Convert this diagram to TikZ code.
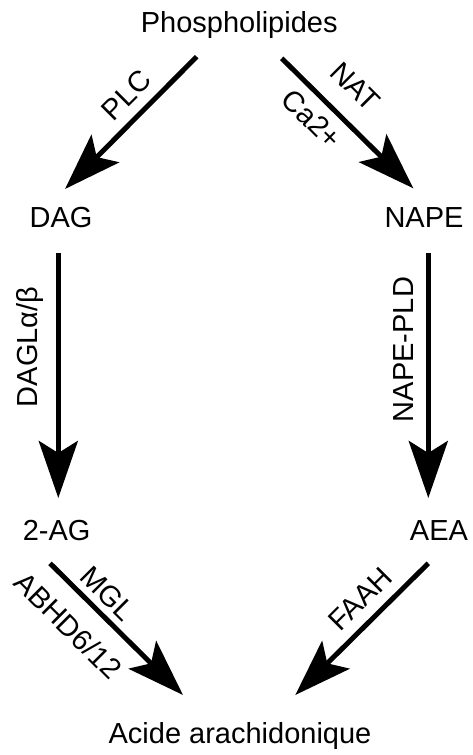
\documentclass[tikz,border=0pt]{standalone}
\usepackage{fontspec}
\setmainfont{Liberation Sans}
\usetikzlibrary{arrows.meta}
\begin{document}
\begin{tikzpicture}[x=1pt,y=-1pt,
  lbl/.style={font=\fontsize{29}{34}\selectfont, inner sep=0pt},
  arr/.style={line width=5pt, -{Stealth[length=57pt,width=39pt,inset=12pt]}}]
\useasboundingbox (0,0) rectangle (472,755);
% metabolites
\node[lbl,anchor=base] (phos) at (239.2,32.7) {Phospholipides};
\node[lbl,anchor=base] (dag)  at (61,227.3) {DAG};
\node[lbl,anchor=base] (nape) at (424,227.3) {NAPE};
\node[lbl,anchor=base] (ag)   at (56.7,540) {2-AG};
\node[lbl,anchor=base] (aea)  at (439,540) {AEA};
\node[lbl,anchor=base] (aa)   at (240,743.3) {Acide arachidonique};
% arrow ends
\coordinate (plcS) at (196.7,56.7);  \coordinate (plcE) at (65,189);
\coordinate (natS) at (281.7,58.3);  \coordinate (natE) at (413.3,188.3);
\coordinate (dglS) at (58.3,253);    \coordinate (dglE) at (58.3,498);
\coordinate (pldS) at (428.3,253);   \coordinate (pldE) at (428.3,498);
\coordinate (mglS) at (50,563.3);    \coordinate (mglE) at (183,695);
\coordinate (faaS) at (428.3,563.3); \coordinate (faaE) at (295.3,695);
\draw[arr] (plcS) -- (plcE);
\draw[arr] (natS) -- (natE);
\draw[arr] (dglS) -- (dglE);
\draw[arr] (pldS) -- (pldE);
\draw[arr] (mglS) -- (mglE);
\draw[arr] (faaS) -- (faaE);
% enzyme labels
\node[lbl,rotate=45]  (plc)  at (126.7,95) {PLC};
\node[lbl,rotate=-45] (nat)  at (355,86.7) {NAT};
\node[lbl,rotate=-45] (ca)   at (311.7,119) {Ca2+};
\node[lbl,rotate=90,anchor=base] (dagl) at (37.3,347) {DAGLα/β};
\node[lbl,rotate=90,anchor=base] (pld)  at (413.3,349.5) {NAPE-PLD};
\node[lbl,rotate=-45] (mgl)  at (107.3,593.3) {MGL};
\node[lbl,rotate=-45] (abhd) at (68.6,625.6) {ABHD6/12};
\node[lbl,rotate=45]  (faah) at (360,599) {FAAH};
\end{tikzpicture}
\end{document}
